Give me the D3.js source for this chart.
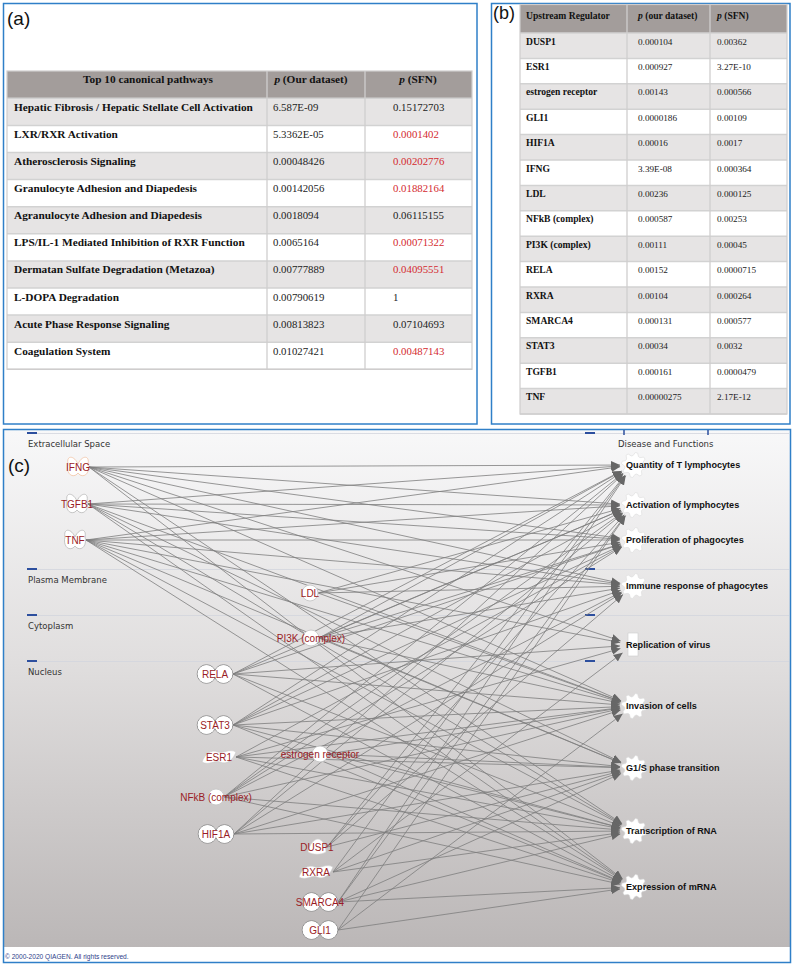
<!DOCTYPE html>
<html><head><meta charset="utf-8">
<script src="https://cdn.jsdelivr.net/npm/d3@7"></script>
<style>body{margin:0;background:#fff;} svg{display:block}</style>
</head><body><svg id="fig" width="793" height="966"></svg>
<script>
// ---------------- DATA ----------------
const pathwayHeader = ["Top 10 canonical pathways", "(Our dataset)", "(SFN)"];
const pathways = ["Hepatic Fibrosis / Hepatic Stellate Cell Activation","LXR/RXR Activation","Atherosclerosis Signaling","Granulocyte Adhesion and Diapedesis","Agranulocyte Adhesion and Diapedesis","LPS/IL-1 Mediated Inhibition of RXR Function","Dermatan Sulfate Degradation (Metazoa)","L-DOPA Degradation","Acute Phase Response Signaling","Coagulation System"];
const pathwayP = ["6.587E-09","5.3362E-05","0.00048426","0.00142056","0.0018094","0.0065164","0.00777889","0.00790619","0.00813823","0.01027421"];
const pathwaySFN = ["0.15172703","0.0001402","0.00202776","0.01882164","0.06115155","0.00071322","0.04095551","1","0.07104693","0.00487143"];
const pathwaySFNsig = [false,true,true,true,false,true,true,false,false,true];

const regulatorHeader = ["Upstream Regulator", "(our dataset)", "(SFN)"];
const regulators = ["DUSP1","ESR1","estrogen receptor","GLI1","HIF1A","IFNG","LDL","NFkB (complex)","PI3K (complex)","RELA","RXRA","SMARCA4","STAT3","TGFB1","TNF"];
const regulatorP = ["0.000104","0.000927","0.00143","0.0000186","0.00016","3.39E-08","0.00236","0.000587","0.00111","0.00152","0.00104","0.000131","0.00034","0.000161","0.00000275"];
const regulatorSFN = ["0.00362","3.27E-10","0.000566","0.00109","0.0017","0.000364","0.000125","0.00253","0.00045","0.0000715","0.000264","0.000577","0.0032","0.0000479","2.17E-12"];

const layers = ["Extracellular Space","Plasma Membrane","Cytoplasm","Nucleus"];
const sources = ["IFNG","TGFB1","TNF","LDL","PI3K (complex)","RELA","STAT3","ESR1","estrogen receptor","NFkB (complex)","HIF1A","DUSP1","RXRA","SMARCA4","GLI1"];
const sourceTypes = ["cytokine","cytokine","cytokine","complex","complex","tr","tr","nr","complex","complex","tr","phosphatase","nr","tr","tr"];
const functions = ["Quantity of T lymphocytes","Activation of lymphocytes","Proliferation of phagocytes","Immune response of phagocytes","Replication of virus","Invasion of cells","G1/S phase transition","Transcription of RNA","Expression of mRNA"];
const functionTypes = ["function","function","function","function","virus","function","function","function","function"];
const linkTargets = [
  [0,1,2,3,4,5,7,8],
  [0,1,2,3,5,6,7,8],
  [0,1,2,3,4,5,6,7,8],
  [1,2,3,5],
  [0,1,2,3,5,6],
  [0,1,2,4,5,7,8],
  [0,1,2,3,5,6,7,8],
  [2,4,5,6,7,8],
  [5,6,7,8],
  [0,1,2,3,5,7,8],
  [0,1,3,5,6,7],
  [0,1,3,6],
  [0,4,6,7],
  [0,1,6,7,8],
  [1,5,8]
];
const copyright = "© 2000-2020 QIAGEN. All rights reserved.";

// ---------------- LAYOUT (network canvas units) ----------------
const srcCol = [75,74,72,307,308,212,212,216,317,213,213,314,313,317,317];
const srcRow = [37,74,110,163,208,244,295,327,324,367,404,417,442,472,500];
const fnRow  = [35,75,110,156,215,276,338,401,457];
const layerRow = [3,139,185,231];

const svg = d3.select("#fig");
const serif = "'Liberation Serif','Times New Roman',serif";
const sans = "'Liberation Sans',Arial,sans-serif";
const BLUE = "#2f7fc8";

// ---------- panel frames ----------
svg.append("rect").attr("x",3.5).attr("y",3.5).attr("width",473.5).attr("height",420.5)
  .attr("fill","#fff").attr("stroke",BLUE).attr("stroke-width",1.5);
svg.append("rect").attr("x",491.5).attr("y",3.5).attr("width",298.5).attr("height",420.5)
  .attr("fill","#fff").attr("stroke",BLUE).attr("stroke-width",1.5);

// ---------- generic table ----------
function drawTable(g, opt){
  const {cols, headTop, headBot, rowBot, names, c2, c3, red, header, bold, reg, textX, headX, headAnchor, base, headBase} = opt;
  const y = d3.scaleBand().domain(d3.range(names.length)).range([headBot,rowBot]);
  g.append("rect").attr("x",cols[0]).attr("y",headTop).attr("width",cols[3]-cols[0]).attr("height",headBot-headTop).attr("fill","#a39d9b");
  g.selectAll("rect.row").data(names).join("rect").attr("class","row")
    .attr("x",cols[0]).attr("y",(d,i)=>y(i)).attr("width",cols[3]-cols[0]).attr("height",y.bandwidth())
    .attr("fill",(d,i)=>i%2===0?"#e6e4e4":"#ffffff");
  g.selectAll("line.h").data(d3.range(names.length+1)).join("line").attr("class","h")
    .attr("x1",cols[0]).attr("x2",cols[3]).attr("y1",i=>i<names.length?y(i):rowBot).attr("y2",i=>i<names.length?y(i):rowBot)
    .attr("stroke","#d2d2d2").attr("stroke-width",1.5);
  g.selectAll("line.v").data([1,2]).join("line").attr("class","v")
    .attr("x1",i=>cols[i]).attr("x2",i=>cols[i]).attr("y1",headTop).attr("y2",rowBot)
    .attr("stroke","#d0cece").attr("stroke-width",1.3);
  g.append("rect").attr("x",cols[0]).attr("y",headTop).attr("width",cols[3]-cols[0]).attr("height",rowBot-headTop)
    .attr("fill","none").attr("stroke","#cfcdcd").attr("stroke-width",1.2);
  const ht = g.append("g").attr("font-family",serif).attr("font-weight","bold").attr("font-size",bold).attr("fill","#111");
  ht.append("text").attr("x",headX[0]).attr("y",headBase).attr("text-anchor",headAnchor).text(header[0]);
  [1,2].forEach(k=>{
    const t = ht.append("text").attr("x",headX[k]).attr("y",headBase).attr("text-anchor",headAnchor);
    t.append("tspan").attr("font-style","italic").text("p");
    t.append("tspan").text(" "+header[k]);
  });
  g.selectAll("text.n").data(names).join("text").attr("class","n")
    .attr("x",textX[0]).attr("y",(d,i)=>y(i)+base).attr("font-family",serif).attr("font-weight","bold")
    .attr("font-size",bold).attr("fill","#111").text(d=>d);
  g.selectAll("text.p").data(c2).join("text").attr("class","p")
    .attr("x",textX[1]).attr("y",(d,i)=>y(i)+base).attr("font-family",serif)
    .attr("font-size",reg).attr("fill","#222").text(d=>d);
  g.selectAll("text.s").data(c3).join("text").attr("class","s")
    .attr("x",textX[2]).attr("y",(d,i)=>y(i)+base).attr("font-family",serif)
    .attr("font-size",reg).attr("fill",(d,i)=>red&&red[i]?"#d42a2f":"#222").text(d=>d);
}

// ---------- panel a ----------
const ga = svg.append("g");
ga.append("text").attr("x",7).attr("y",25).attr("font-family",sans).attr("font-size",19).attr("fill","#111").text("(a)");
drawTable(ga,{cols:[7,267,365,472],headTop:71,headBot:98.3,rowBot:369.3,names:pathways,c2:pathwayP,c3:pathwaySFN,red:pathwaySFNsig,
  header:pathwayHeader,bold:11.3,reg:10.8,textX:[14,273,393],headX:[148,311,418],headAnchor:"middle",base:12.5,headBase:83});

// ---------- panel b ----------
const gb = svg.append("g");
drawTable(gb,{cols:[520,627,710,787],headTop:4.5,headBot:33,rowBot:414,names:regulators,c2:regulatorP,c3:regulatorSFN,red:null,
  header:regulatorHeader,bold:9.6,reg:9.2,textX:[526,638,717],headX:[526,638,717],headAnchor:"start",base:11.5,headBase:19});
gb.append("text").attr("x",493).attr("y",19).attr("font-family",sans).attr("font-size",18).attr("fill","#111").text("(b)");

// ---------- panel c ----------
const defs = svg.append("defs");
const grad = defs.append("linearGradient").attr("id","bg").attr("x1",0).attr("x2",0).attr("y1",0).attr("y2",1);
grad.append("stop").attr("offset","0%").attr("stop-color","#f8f8f9");
grad.append("stop").attr("offset","45%").attr("stop-color","#e0dede");
grad.append("stop").attr("offset","100%").attr("stop-color","#bbb7b7");
defs.append("marker").attr("id","arr").attr("viewBox","0 -4 9 8").attr("refX",9).attr("refY",0)
  .attr("markerWidth",9).attr("markerHeight",8).attr("markerUnits","userSpaceOnUse").attr("orient","auto")
  .append("path").attr("d","M0,-4L9,0L0,4Z").attr("fill","#676767");

svg.append("rect").attr("x",4).attr("y",430).attr("width",786).attr("height",517).attr("fill","url(#bg)");
svg.append("rect").attr("x",4).attr("y",947).attr("width",786).attr("height",15).attr("fill","#fff");
svg.append("rect").attr("x",3.5).attr("y",429.5).attr("width",787).attr("height",533).attr("fill","none")
  .attr("stroke",BLUE).attr("stroke-width",1.5);

const nx = d3.scaleLinear().domain([0,787]).range([3,790]);
const ny = d3.scaleLinear().domain([0,517]).range([430,947]);

const gl = svg.append("g");
gl.selectAll("line.sep").data(layerRow).join("line").attr("class","sep")
  .attr("x1",nx(24)).attr("x2",nx(786)).attr("y1",d=>ny(d)+0.5).attr("y2",d=>ny(d)+0.5)
  .attr("stroke","#d3d6de").attr("stroke-width",1).attr("opacity",0.8);
gl.selectAll("line.dl").data(layerRow).join("line").attr("class","dl")
  .attr("x1",nx(24)).attr("x2",nx(34)).attr("y1",d=>ny(d)).attr("y2",d=>ny(d))
  .attr("stroke","#2d4f9e").attr("stroke-width",2);
gl.selectAll("line.dr").data(layerRow).join("line").attr("class","dr")
  .attr("x1",nx(582)).attr("x2",nx(592)).attr("y1",d=>ny(d)).attr("y2",d=>ny(d))
  .attr("stroke","#2d4f9e").attr("stroke-width",2);
gl.selectAll("line.tk").data([621,705]).join("line").attr("class","tk")
  .attr("x1",d=>nx(d)).attr("x2",d=>nx(d)).attr("y1",ny(0)).attr("y2",ny(5))
  .attr("stroke","#2d4f9e").attr("stroke-width",1.5);
gl.selectAll("text.ly").data(layers).join("text").attr("class","ly")
  .attr("x",nx(25)).attr("y",(d,i)=>ny(layerRow[i])+13.5)
  .attr("font-family","'DejaVu Sans',sans-serif").attr("font-size",8.5).attr("fill","#333").text(d=>d);
gl.append("text").attr("x",nx(615)).attr("y",ny(16.5)).attr("font-family","'DejaVu Sans',sans-serif")
  .attr("font-size",8.5).attr("fill","#333").text("Disease and Functions");

const anchorOff = {cytokine:11, tr:18, nr:17, complex:8, phosphatase:10};
const tx = nx(630);
const links = [];
sources.forEach((s,i)=>linkTargets[i].forEach(t=>links.push({s:i,t:t})));
const ge = svg.append("g");
ge.selectAll("line").data(links).join("line")
  .each(function(d){
    const x1 = nx(srcCol[d.s]) + anchorOff[sourceTypes[d.s]], y1 = ny(srcRow[d.s]);
    const x2c = tx, y2c = ny(fnRow[d.t]);
    const dx = x2c-x1, dy = y2c-y1, L = Math.hypot(dx,dy);
    const r = 13;
    d3.select(this).attr("x1",x1).attr("y1",y1).attr("x2",x2c-dx/L*r).attr("y2",y2c-dy/L*r);
  })
  .attr("stroke","#7d7d7d").attr("stroke-width",0.8).attr("marker-end","url(#arr)");

const gs = svg.append("g");
const cytoPath = "M0,-3 C-4,-12 -12,-12 -10,-3 C-12,4 -8,11 -2,8 L0,6 L2,8 C8,11 12,4 10,-3 C12,-12 4,-12 0,-3 Z";
const nrPath = "M-17,5 C-14,-3 -8,-8 -1,-5 C5,-3 10,-9 17,-5 C14,3 8,8 1,5 C-5,3 -10,9 -17,5 Z";
const phPath = "M-9,5 C-8,-2 -3,-8 1,-8 C5,-8 9,-1 9,5 C4,8 -4,8 -9,5 Z";
sources.forEach((s,i)=>{
  const g = gs.append("g").attr("transform",`translate(${nx(srcCol[i])},${ny(srcRow[i])})`);
  const t = sourceTypes[i];
  if(t==="cytokine"){
    g.append("path").attr("d",cytoPath).attr("fill","#fff").attr("stroke",i===0?"#f2c4a4":"#b9b9b9").attr("stroke-width",0.8);
  } else if(t==="tr"){
    g.selectAll("circle.o").data([-8.5,8.5]).join("circle").attr("class","o").attr("cx",d=>d).attr("r",9.3)
      .attr("fill","#fff").attr("stroke","#8a8a8a").attr("stroke-width",0.9);
    g.selectAll("circle.i").data([-8.5,8.5]).join("circle").attr("class","i").attr("cx",d=>d).attr("r",8.8).attr("fill","#fff");
  } else if(t==="nr"){
    g.append("path").attr("d",nrPath).attr("fill","#fff").attr("stroke","#c8c8c8").attr("stroke-width",0.6);
  } else if(t==="complex"){
    g.append("circle").attr("r",8).attr("fill","#fff").attr("stroke","#c6c6c6").attr("stroke-width",0.9);
  } else {
    g.append("path").attr("d",phPath).attr("fill","#fff").attr("stroke","#d0d0d0").attr("stroke-width",0.6);
  }
  g.append("text").attr("y",3.6).attr("text-anchor","middle").attr("font-family",sans).attr("font-size",10)
    .attr("fill","#9a1c26").text(s);
});

const gf = svg.append("g");
function gearPath(ro, ri, n){
  const pts=[];
  for(let k=0;k<n*4;k++){
    const a = (k+0.5)/(n*4)*2*Math.PI;
    const r = (k%4<2)?ro:ri;
    pts.push([r*Math.cos(a), r*Math.sin(a)]);
  }
  return d3.line().curve(d3.curveLinearClosed)(pts);
}
const gear = gearPath(12.5, 9.5, 8);
functions.forEach((f,i)=>{
  const g = gf.append("g").attr("transform",`translate(${nx(631)},${ny(fnRow[i])})`);
  if(functionTypes[i]==="virus"){
    g.append("rect").attr("x",-6).attr("y",-12).attr("width",10).attr("height",23).attr("fill","#fff").attr("stroke","#ccc").attr("stroke-width",0.6);
  } else {
    g.append("path").attr("d",gear).attr("fill","#fff").attr("stroke","#dcdcdc").attr("stroke-width",0.6);
  }
  g.append("text").attr("x",-8).attr("y",3.3).attr("font-family",sans).attr("font-weight","bold")
    .attr("font-size",9.1).attr("fill","#111").text(f);
});

svg.append("text").attr("x",8).attr("y",472).attr("font-family",sans).attr("font-size",19).attr("fill","#111").text("(c)");
svg.append("text").attr("x",5).attr("y",958.5).attr("font-family",sans).attr("font-size",6.6).attr("fill","#2c3e8a").text(copyright);
</script></body></html>
